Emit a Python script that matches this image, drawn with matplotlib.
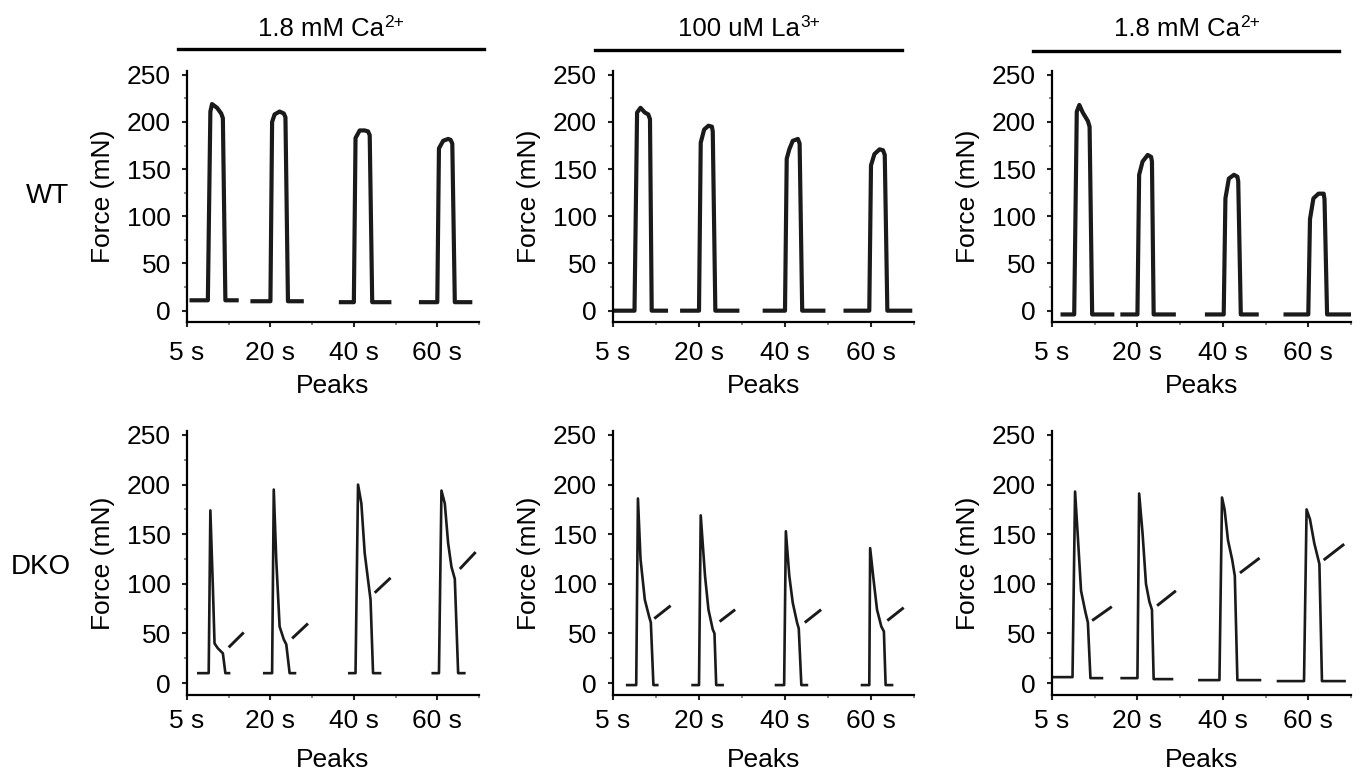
import matplotlib
matplotlib.use("Agg")
import matplotlib.pyplot as plt
from matplotlib.lines import Line2D
from matplotlib.ticker import MultipleLocator

plt.rcParams['font.family'] = ['Liberation Sans', 'DejaVu Sans']

# axis labels / headers
tick_pos = [0, 1, 2, 3]
tick_labels = ['5 s', '20 s', '40 s', '60 s']
headers = ['1.8 mM Ca', '100 uM La', '1.8 mM Ca']
header_sup = ['2+', '3+', '2+']
row_labels = ['WT', 'DKO']

# WT traces (time position, force mN)
wt_ca_t = [[0.03, 0.25, 0.28, 0.30, 0.36, 0.41, 0.43, 0.46, 0.62],
           [0.76, 1.00, 1.02, 1.05, 1.11, 1.16, 1.18, 1.21, 1.40],
           [1.82, 2.00, 2.02, 2.07, 2.13, 2.17, 2.19, 2.22, 2.45],
           [2.78, 3.00, 3.02, 3.07, 3.13, 3.16, 3.18, 3.21, 3.42]]
wt_ca_f = [[11, 11, 211, 219, 215, 209, 204, 11, 11],
           [10, 10, 200, 208, 211, 209, 205, 10, 10],
           [9, 9, 183, 191, 191, 190, 186, 9, 9],
           [9, 9, 172, 180, 182, 181, 177, 9, 9]]

wt_la_t = [[0.00, 0.25, 0.28, 0.32, 0.37, 0.41, 0.43, 0.45, 0.64],
           [0.78, 1.00, 1.02, 1.06, 1.11, 1.15, 1.16, 1.19, 1.47],
           [1.74, 2.00, 2.02, 2.05, 2.09, 2.15, 2.17, 2.20, 2.47],
           [2.68, 2.98, 3.00, 3.04, 3.10, 3.14, 3.16, 3.19, 3.48]]
wt_la_f = [[0, 0, 210, 215, 210, 208, 203, 0, 0],
           [0, 0, 178, 192, 196, 195, 190, 0, 0],
           [0, 0, 161, 171, 180, 182, 177, 0, 0],
           [0, 0, 154, 166, 171, 170, 165, 0, 0]]

wt_wash_t = [[0.10, 0.26, 0.29, 0.32, 0.36, 0.42, 0.44, 0.47, 0.73],
             [0.80, 1.00, 1.02, 1.06, 1.12, 1.16, 1.17, 1.19, 1.45],
             [1.79, 2.01, 2.03, 2.07, 2.13, 2.17, 2.18, 2.21, 2.42],
             [2.71, 3.00, 3.02, 3.06, 3.12, 3.18, 3.19, 3.22, 3.50]]
wt_wash_f = [[-4, -4, 211, 218, 210, 201, 195, -4, -4],
             [-4, -4, 144, 158, 165, 163, 158, -4, -4],
             [-4, -4, 119, 140, 144, 142, 137, -4, -4],
             [-4, -4, 97, 119, 124, 124, 118, -4, -4]]

# DKO traces
dko_ca_t = [[0.12, 0.26, 0.28, 0.31, 0.33, 0.37, 0.43, 0.46, 0.52],
            [0.91, 1.02, 1.04, 1.07, 1.11, 1.16, 1.19, 1.23, 1.31],
            [1.93, 2.02, 2.05, 2.09, 2.13, 2.17, 2.20, 2.23, 2.33],
            [2.93, 3.02, 3.05, 3.09, 3.13, 3.17, 3.21, 3.25, 3.34]]
dko_ca_f = [[10, 10, 174, 97, 40, 35, 30, 10, 10],
            [10, 10, 195, 124, 57, 44, 39, 10, 10],
            [10, 10, 200, 181, 131, 104, 84, 10, 10],
            [10, 10, 194, 181, 141, 117, 105, 10, 10]]
dko_ca_arrows = [[0.50, 36, 0.68, 51], [1.26, 45, 1.45, 60],
                 [2.25, 91, 2.44, 106], [3.27, 115, 3.46, 132]]

dko_la_t = [[0.15, 0.27, 0.29, 0.32, 0.37, 0.42, 0.44, 0.47, 0.53],
            [0.91, 1.00, 1.02, 1.07, 1.11, 1.16, 1.18, 1.20, 1.29],
            [1.88, 1.99, 2.01, 2.05, 2.09, 2.14, 2.16, 2.19, 2.27],
            [2.88, 2.98, 2.99, 3.03, 3.07, 3.12, 3.15, 3.17, 3.26]]
dko_la_f = [[-2, -2, 186, 125, 84, 67, 61, -2, -2],
            [-2, -2, 169, 108, 74, 54, 50, -2, -2],
            [-2, -2, 153, 108, 81, 61, 55, -2, -2],
            [-2, -2, 136, 104, 74, 57, 52, -2, -2]]
dko_la_arrows = [[0.48, 65, 0.67, 78], [1.24, 62, 1.42, 74],
                 [2.23, 61, 2.42, 74], [3.19, 63, 3.38, 76]]

dko_wash_t = [[0.00, 0.24, 0.27, 0.30, 0.34, 0.39, 0.42, 0.45, 0.60],
              [0.80, 1.00, 1.02, 1.06, 1.10, 1.14, 1.17, 1.19, 1.42],
              [1.71, 1.96, 1.99, 2.02, 2.06, 2.11, 2.14, 2.17, 2.45],
              [2.63, 2.95, 2.98, 3.02, 3.07, 3.11, 3.13, 3.16, 3.44]]
dko_wash_f = [[6, 6, 193, 151, 93, 72, 61, 5, 5],
              [5, 5, 191, 151, 100, 82, 74, 4, 4],
              [3, 3, 187, 175, 144, 124, 108, 3, 3],
              [2, 2, 175, 165, 141, 127, 120, 2, 2]]
dko_wash_arrows = [[0.47, 63, 0.70, 77], [1.23, 78, 1.45, 93],
                   [2.20, 111, 2.43, 126], [3.18, 124, 3.42, 140]]

W, H = 1360, 775
fig = plt.figure(figsize=(W / 100, H / 100), dpi=100)

# panel boxes in pixels: left, right, top, bottom
lefts = [187, 613, 1052]
rights = [479, 914, 1351]
rows_px = [(71, 322), (431, 695)]

panels = [
    [(wt_ca_t, wt_ca_f, None), (wt_la_t, wt_la_f, None), (wt_wash_t, wt_wash_f, None)],
    [(dko_ca_t, dko_ca_f, dko_ca_arrows), (dko_la_t, dko_la_f, dko_la_arrows),
     (dko_wash_t, dko_wash_f, dko_wash_arrows)],
]

for r in range(2):
    top, bot = rows_px[r]
    for c in range(3):
        ax = fig.add_axes([lefts[c] / W, 1 - bot / H,
                           (rights[c] - lefts[c]) / W, (bot - top) / H])
        ts, fs, arrows = panels[r][c]
        lw = 3.0 if r == 0 else 1.9
        for t, f in zip(ts, fs):
            ax.plot(t, f, color='#1a1a1a', lw=lw, solid_joinstyle='round',
                    solid_capstyle='butt')
        # arrows pointing at the shoulder of each DKO trace
        if arrows:
            for x0, y0, x1, y1 in arrows:
                ax.plot([x0, x1], [y0, y1], color='#1a1a1a', lw=2.1,
                        solid_capstyle='butt')
        ax.set_xlim(0, 3.5)
        ax.set_ylim(-12, 254)
        ax.set_xticks(tick_pos)
        ax.set_xticklabels(tick_labels)
        ax.set_yticks([0, 50, 100, 150, 200, 250])
        ax.xaxis.set_minor_locator(MultipleLocator(0.5))
        ax.yaxis.set_minor_locator(MultipleLocator(25))
        for s in ['top', 'right']:
            ax.spines[s].set_visible(False)
        for s in ['left', 'bottom']:
            ax.spines[s].set_linewidth(1.6)
        ax.tick_params(axis='both', which='major', labelsize=19, length=3.5,
                       width=1.5, direction='out', color='#222222')
        ax.tick_params(axis='both', which='minor', length=2, width=1.2,
                       color='#777777')
        ax.tick_params(axis='x', which='major', pad=10 if r == 0 else 6.5)
        ax.tick_params(axis='y', which='major', pad=8)
        ax.set_ylabel('Force (mN)', fontsize=19, labelpad=9)
        ax.set_xlabel('Peaks', fontsize=19, labelpad=7 if r == 0 else 11)

# header bars with condition labels
bar_px = [(178, 484, 49), (595, 902, 50), (1033, 1339, 51)]
text_x = [321, 739, 1177]
for (x0, x1, y), tx, label, sup in zip(bar_px, text_x, headers, header_sup):
    fig.add_artist(Line2D([x0 / W, x1 / W], [1 - y / H, 1 - y / H],
                          color='black', lw=2.4))
    t = fig.text(tx / W, 1 - 29 / H, label, fontsize=18.5, ha='center', va='center')
    plt.annotate(sup, xy=(1.0, 1.08), xycoords=t, fontsize=12.5,
                 ha='left', va='top')

# row labels
fig.text(47 / W, 1 - 196 / H, row_labels[0], fontsize=20, ha='center', va='center')
fig.text(41 / W, 1 - 567 / H, row_labels[1], fontsize=20, ha='center', va='center')

fig.savefig('out.png', dpi=100)
